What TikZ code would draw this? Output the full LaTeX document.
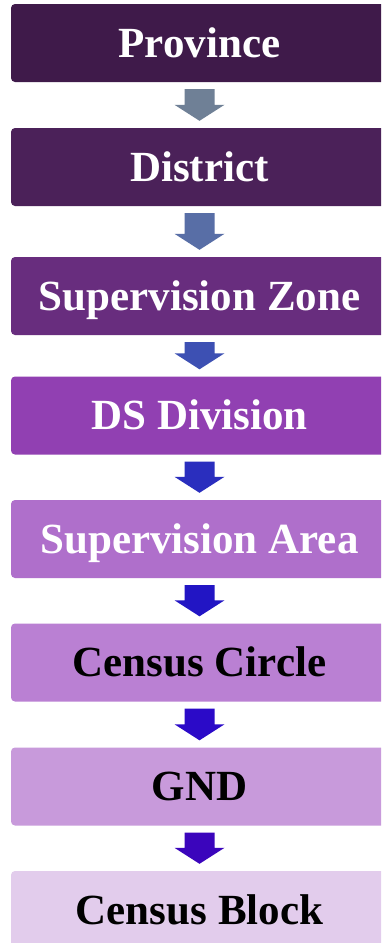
\documentclass[tikz,border=0pt]{standalone}
\usepackage{fontspec}
\setmainfont{Liberation Serif}
\usetikzlibrary{calc}

% level colours, dark to light
\definecolor{lvA}{HTML}{3F1A4A}
\definecolor{lvB}{HTML}{4B2159}
\definecolor{lvC}{HTML}{682D7E}
\definecolor{lvD}{HTML}{9140B2}
\definecolor{lvE}{HTML}{AF6FCB}
\definecolor{lvF}{HTML}{BA80D3}
\definecolor{lvG}{HTML}{C89ADB}
\definecolor{lvH}{HTML}{E2CCEC}
% block arrow colours
\definecolor{arA}{HTML}{6F8096}
\definecolor{arB}{HTML}{586EA6}
\definecolor{arC}{HTML}{3D50B3}
\definecolor{arD}{HTML}{2A2EBE}
\definecolor{arE}{HTML}{2215C4}
\definecolor{arF}{HTML}{2B0AC8}
\definecolor{arG}{HTML}{3B05BC}

\tikzset{
  level/.style={rectangle, rounded corners=4pt, draw=none, inner sep=0pt,
    minimum width=377pt, minimum height=78pt,
    text height=28.5pt, text depth=0pt,
    font=\bfseries\fontsize{43}{50}\selectfont},
  lighttext/.style={text=white},
  darktext/.style={text=black},
}

% downward block arrow between two stacked boxes
\newcommand{\blockarrow}[3]{%
  \fill[#3] let \p1=(#1.south), \p2=(#2.north) in
    (\x1-15pt,\y1-7pt) -- (\x1+15pt,\y1-7pt) -- (\x1+15pt,\y2+23pt)
    -- (\x1+25pt,\y2+23pt) -- (\x1,\y2+7pt) -- (\x1-25pt,\y2+23pt)
    -- (\x1-15pt,\y2+23pt) -- cycle;}

\begin{document}
\begin{tikzpicture}[x=1pt,y=-1pt]
  \useasboundingbox (0,0) rectangle (381,943);
  \fill[white] (0,0) rectangle (381,943);
  \clip (0,0) rectangle (381,943);

  \node[level, lighttext, fill=lvA] (province)  at (199.5,43)    {Province};
  \node[level, lighttext, fill=lvB] (district)  at (199.5,167)   {District};
  \node[level, lighttext, fill=lvC] (szone)     at (199.5,296)   {Supervision Zone};
  \node[level, lighttext, fill=lvD] (dsdiv)     at (199.5,415.5) {DS Division};
  \node[level, lighttext, fill=lvE] (sarea)     at (199.5,539)   {Supervision Area};
  \node[level, darktext,  fill=lvF] (ccircle)   at (199.5,662.5) {Census Circle};
  \node[level, darktext,  fill=lvG] (gnd)       at (199.5,786.5) {GND};
  \node[level, darktext,  fill=lvH] (cblock)    at (199.5,910)   {Census Block};

  \blockarrow{province}{district}{arA}
  \blockarrow{district}{szone}{arB}
  \blockarrow{szone}{dsdiv}{arC}
  \blockarrow{dsdiv}{sarea}{arD}
  \blockarrow{sarea}{ccircle}{arE}
  \blockarrow{ccircle}{gnd}{arF}
  \blockarrow{gnd}{cblock}{arG}
\end{tikzpicture}
\end{document}
